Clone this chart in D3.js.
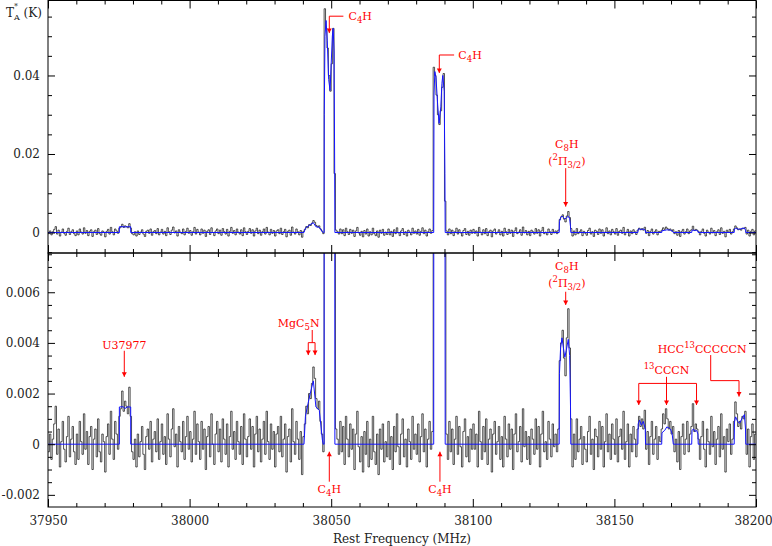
<!DOCTYPE html>
<html><head><meta charset="utf-8">
<script src="https://cdn.jsdelivr.net/npm/d3@7"></script>
<style>html,body{margin:0;padding:0;background:#fff;} svg{display:block;}</style>
</head><body><svg id="c" width="772" height="546"></svg>
<script>
// ---------------- DATA ----------------
const freqStart = 37950;      // MHz
const chanWidth = 0.5;        // MHz
const unitK = 1e-5;           // spectrum and model values are in units of 1e-5 K
const spectrum = [
 -30, 40, -60, 20, 80, 150, -40, 60, -90, 10, 90, -20, -70, 30, 110, -50, 20, 70, -30, -80,
 40, -60, 90, 10, -40, 120, -20, 50, -80, 30, 70, -100, 20, 60, -50, 100, -30, -70, 40, 10,
 -110, 30, 80, -40, 130, 20, -60, 90, 40, -20, 110, 140, 210, 130, 170, 150, 120, 225, 110, -30,
 -60, 20, -90, 40, -50, 10, 70, -40, -100, 30, 60, -20, 90, -70, 20, 50, -30, 100, -60, 10,
 80, -40, 30, -80, 120, 20, -50, 60, 140, -10, 40, -90, 70, 10, -30, 90, -60, 30, 110, -20,
 50, -70, 20, 130, -40, 80, 10, -60, 90, -20, 60, -100, 30, 70, -50, 120, 0, -80, 40, 90,
 -30, 60, -70, 100, 20, -40, 80, -90, 30, 130, -20, 50, -60, 90, 10, -40, 70, -80, 120, 20,
 -50, 30, 100, -20, 70, -90, 40, 110, -30, 60, -70, 20, 90, -40, 130, 10, -60, 80, -20, 50,
 -90, 40, 70, -30, 110, -50, 20, 80, -110, 30, 60, -70, 140, 10, -40, 90, 20, -60, 50, -120,
 30, 80, 150, 120, 200, 180, 240, 305, 260, 180, 140, 170, 90, 40, -30, 5700, 5200, 4700, 4000, 3600,
 4300, 5200, 1500, 60, 20, -40, 90, -30, 70, -80, 110, 20, -50, 80, -20, 60, -100, 40, 130, -10,
 -70, 30, -110, 50, -40, 90, -90, 20, -60, 110, -30, -80, 40, -120, 60, -20, 80, -70, 10, -50,
 90, -60, 30, -100, 70, -30, 120, -10, -80, 40, 100, -50, 20, -90, 60, 10, -60, 110, -20, 40,
 -40, 80, -70, 30, 120, -30, 60, -90, 20, 90, -20, 50, 4210, 4000, 3500, 3000, 2750, 3100, 3700, 4050,
 800, 40, -60, 90, -30, 60, -80, 20, 110, -40, 70, -10, -90, 50, 100, -50, 30, -70, 60, -20,
 80, -20, 40, -90, 130, 10, -60, 70, -30, 100, -80, 20, 60, -110, 40, 90, -40, 10, 70, -60,
 30, -90, 110, 20, -50, 80, -20, 60, -100, 40, 120, -30, 10, 70, -70, 140, -10, 50, -60, 30,
 -80, 60, 20, -40, 100, -20, 70, -90, 40, 130, -30, 10, -60, 90, 20, -50, 80, -10, 40, -30,
 60, 330, 400, 450, 340, 270, 420, 535, 380, 100, -90, 40, -60, 100, -30, 20, 70, -80, 30, -20,
 -70, 50, 110, -40, 20, -100, 60, 30, -50, 90, -20, 70, -90, 10, 120, -30, 40, -60, 80, 20,
 -40, 100, -70, 30, 60, -20, 130, -60, 10, 80, -90, 40, -30, 70, 20, -50, 60, 110, 70, 100,
 60, 134, -20, 50, -80, 30, 90, -40, 20, 70, -60, 30, 10, 60, 120, 80, 140, 100, 60, 90,
 40, 70, -30, 20, -70, 50, -100, 30, 80, -40, 20, 90, -30, 40, 70, 160, 50, 80, 60, 20,
 -60, 30, 90, -20, -90, 60, 10, -40, 110, -10, 50, -80, 20, 70, -50, 120, -20, 30, -110, 60,
 10, 80, -40, 20, 90, 167, 120, 70, 90, 60, 110, 100, 130, -40, 60, -90, 30, 80, -60, 40
];
// model line profiles: [frequency MHz, value in 1e-5 K]
const modelU37977 = [[37975.2,0],[37975.2,147],[37976.5,148],[37977.2,141],[37978,147],[37979.2,147],[37979.2,0]];
const modelMgC5N = [[38040.4,0],[38040.9,110],[38041.8,160],[38042.8,210],[38043.7,250],[38044.6,147],[38045.8,134],[38046.9,16],[38047.2,0]];
const modelC4Ha = [[38047.5,0],[38047.55,3000],[38047.8,5000],[38048.2,5400],[38048.6,4900],[38049.1,3900],[38049.6,3620],[38050.0,4300],[38050.4,5000],[38050.7,5200],[38051.0,4600],[38051.2,2000],[38051.3,0]];
const modelC4Hb = [[38086.2,0],[38086.3,3500],[38086.6,4100],[38087.0,3950],[38087.6,3250],[38088.1,2780],[38088.7,3200],[38089.1,3800],[38089.4,4000],[38089.9,3600],[38090.15,1500],[38090.25,0]];
const modelC8H = [[38130.5,0],[38130.6,280],[38131.0,380],[38131.5,420],[38132.0,380],[38132.5,343],[38133.0,370],[38133.7,414],[38134.2,350],[38134.5,150],[38134.6,0]];
const model13CCCN1 = [[38158.3,0],[38158.4,80],[38158.9,95],[38159.5,75],[38160.2,90],[38160.9,60],[38161,0]];
const model13CCCN2 = [[38166.7,0],[38166.8,45],[38167.8,55],[38168.5,68],[38169.2,65],[38169.8,60],[38170.4,40],[38170.8,0]];
const model13CCCN3 = [[38177.3,0],[38177.4,55],[38178,60],[38178.5,50],[38179,55],[38179.5,40],[38179.6,0]];
const modelHCC13C5N = [[38192.3,0],[38192.4,90],[38192.8,108],[38193.5,90],[38194.2,83],[38195,100],[38195.9,117],[38196.3,60],[38196.4,0]];

const xMajorTicks = [37950, 38000, 38050, 38100, 38150, 38200];
const topMajorTicks = [0, 0.02, 0.04];
const botMajorTicks = [-0.002, 0, 0.002, 0.004, 0.006];
const xLabel = "Rest Frequency (MHz)";

// ---------------- LAYOUT ----------------
const svg = d3.select("#c");
const FONT = "'DejaVu Serif', serif";
const L = 48, R = 756, T1 = 0.5, B1 = 253, T2 = 253, B2 = 507;
const x = d3.scaleLinear().domain([37950, 38200]).range([L, R]);
const yTop = d3.scaleLinear().domain([-0.00522, 0.0591]).range([B1, T1]);
const yBot = d3.scaleLinear().domain([-0.00248, 0.00755]).range([B2, T2]);

const xMinor = d3.range(37950, 38201, 10).filter(v => !xMajorTicks.includes(v));
const topMinor = d3.range(-0.005, 0.0591, 0.005).map(v => +v.toFixed(4)).filter(v => !topMajorTicks.includes(v));
const botMinor = d3.range(-0.0020, 0.0076, 0.0005).map(v => +v.toFixed(5)).filter(v => !botMajorTicks.includes(v));

const defs = svg.append("defs");
defs.append("clipPath").attr("id","clipT").append("rect").attr("x",L).attr("y",T1).attr("width",R-L).attr("height",B1-T1);
defs.append("clipPath").attr("id","clipB").append("rect").attr("x",L).attr("y",T2).attr("width",R-L).attr("height",B2-T2);

// spectrum points
const specPts = spectrum.map((v,i) => [freqStart + i*chanWidth, v*unitK]);
specPts.push([freqStart + spectrum.length*chanWidth, spectrum[spectrum.length-1]*unitK]);
const modelPts = [[37950,0]].concat(modelU37977, modelMgC5N, modelC4Ha, modelC4Hb, modelC8H,
   model13CCCN1, model13CCCN2, model13CCCN3, modelHCC13C5N).map(d => [d[0], d[1]*unitK]);
modelPts.push([38200,0]);

function panel(y, clipId) {
  const g = svg.append("g");
  const gd = g.append("g").attr("clip-path", `url(#${clipId})`);
  gd.append("path").datum(specPts)
    .attr("d", d3.line().x(d=>x(d[0])).y(d=>y(d[1])).curve(d3.curveStepAfter))
    .attr("fill","none").attr("stroke","#1a1a1a").attr("stroke-width",0.75);
  gd.append("path").datum(modelPts)
    .attr("d", d3.line().x(d=>x(d[0])).y(d=>y(d[1])))
    .attr("fill","none").attr("stroke","#1414ff").attr("stroke-width",1);
  return g;
}
panel(yTop, "clipT");
panel(yBot, "clipB");

function styleAxis(g) {
  g.select(".domain").remove();
  g.attr("font-family", FONT).attr("font-size", 12);
  g.selectAll("text").attr("fill", "#222");
  g.selectAll("line").attr("stroke", "#000");
}
function xAxes(yPos, which) {
  const mk = which === 'top' ? d3.axisTop : d3.axisBottom;
  svg.append("g").attr("transform",`translate(0,${yPos})`)
    .call(mk(x).tickValues(xMinor).tickSize(-4).tickFormat("")).call(styleAxis);
  svg.append("g").attr("transform",`translate(0,${yPos})`)
    .call(mk(x).tickValues(xMajorTicks).tickSize(-8).tickFormat("")).call(styleAxis);
}
function yAxes(y, majors, minors, fmt) {
  svg.append("g").attr("transform",`translate(${L},0)`)
    .call(d3.axisLeft(y).tickValues(minors).tickSize(-4).tickFormat("")).call(styleAxis);
  svg.append("g").attr("transform",`translate(${L},0)`)
    .call(d3.axisLeft(y).tickValues(majors).tickSize(-7).tickPadding(8).tickFormat(fmt)).call(styleAxis);
  svg.append("g").attr("transform",`translate(${R},0)`)
    .call(d3.axisRight(y).tickValues(minors).tickSize(-4).tickFormat("")).call(styleAxis);
  svg.append("g").attr("transform",`translate(${R},0)`)
    .call(d3.axisRight(y).tickValues(majors).tickSize(-7).tickFormat("")).call(styleAxis);
}
const fmtTick = v => v === 0 ? "0" : (v < 0 ? "-" + String(Math.abs(v)) : String(v));

xAxes(T1, 'top');
xAxes(B1, 'bottom');
xAxes(T2, 'top');
svg.append("g").attr("transform",`translate(0,${B2})`)
  .call(d3.axisBottom(x).tickValues(xMinor).tickSize(-4).tickFormat("")).call(styleAxis);
const xb = svg.append("g").attr("transform",`translate(0,${B2})`)
  .call(d3.axisBottom(x).tickValues(xMajorTicks).tickSize(-8).tickPadding(9).tickFormat(d3.format("d"))).call(styleAxis);
xb.selectAll(".tick text").filter(d => d === 38200).attr("dx", -3);

yAxes(yTop, topMajorTicks, topMinor, fmtTick);
yAxes(yBot, botMajorTicks, botMinor, fmtTick);

// frames
svg.append("rect").attr("x",L).attr("y",T1).attr("width",R-L).attr("height",B1-T1).attr("fill","none").attr("stroke","#000");
svg.append("rect").attr("x",L).attr("y",T2).attr("width",R-L).attr("height",B2-T2).attr("fill","none").attr("stroke","#000");

// axis titles
svg.append("text").attr("x",(L+R)/2).attr("y",543).attr("text-anchor","middle")
  .attr("font-family",FONT).attr("font-size",12).attr("fill","#222").text(xLabel);
const yl = svg.append("text").attr("x",6).attr("y",17).attr("font-family",FONT).attr("font-size",12).attr("fill","#222");
yl.append("tspan").text("T");
yl.append("tspan").attr("font-size",8).attr("dy",-8).text("*");
yl.append("tspan").attr("font-size",8).attr("dx",-4).attr("dy",11).text("A");
yl.append("tspan").attr("dy",-3).text(" (K)");

// ---------------- ANNOTATIONS ----------------
const RED = "#ff0000";
const ann = svg.append("g");
function seg(x1,y1,x2,y2){
  ann.append("line").attr("x1",x1).attr("y1",y1).attr("x2",x2).attr("y2",y2)
    .attr("stroke",RED).attr("stroke-width",1);
}
function head(xp, yp, dir){
  ann.append("path").attr("d",`M${xp},${yp} L${xp-2.5},${yp-4.5*dir} L${xp+2.5},${yp-4.5*dir} Z`).attr("fill",RED);
}
function rich(xp, yp, parts, anchor){
  const t = ann.append("text").attr("x",xp).attr("y",yp).attr("text-anchor",anchor||"middle")
    .attr("font-family",FONT).attr("font-size",11).attr("fill",RED);
  let cur = 0;
  parts.forEach(p => {
    const s = t.append("tspan");
    let target = 0;
    if (p.sub) { target = 3; s.attr("font-size",8.5); }
    if (p.sup) { target = -5; s.attr("font-size",8.5); }
    if (target !== cur) s.attr("dy", target - cur);
    cur = target;
    s.text(p.t);
  });
  return t;
}
const C4H = [{t:"C"},{t:"4",sub:true},{t:"H"}];
const C8H = [{t:"C"},{t:"8",sub:true},{t:"H"}];
const PI = [{t:"("},{t:"2",sup:true},{t:"\u03A0"},{t:"3/2",sub:true},{t:")"}];

// top panel
{
  const xa = x(38049.33), yh = yTop(0.0551);
  seg(xa, yh, xa, yTop(0.0508)); head(xa, yTop(0.0508), 1);
  seg(xa, yh, x(38054.3), yh);
  rich(x(38056.1), yh+4, C4H, "start");
}
{
  const xa = x(38088.17), yh = yTop(0.04522);
  seg(xa, yh, xa, yTop(0.04064)); head(xa, yTop(0.04064), 1);
  seg(xa, yh, x(38093.4), yh);
  rich(x(38094.9), yh+4, C4H, "start");
}
{
  const xa = x(38132.8);
  rich(x(38133.2), yTop(0.0214), C8H);
  rich(x(38133.2), yTop(0.0172), PI);
  seg(xa, yTop(0.0164), xa, yTop(0.0066)); head(xa, yTop(0.0066), 1);
}
// bottom panel
{
  const xa = x(38132.8);
  rich(x(38133.2), yBot(0.00688), C8H);
  rich(x(38133.2), yBot(0.00621), PI);
  seg(xa, yBot(0.00602), xa, yBot(0.0055)); head(xa, yBot(0.0055), 1);
}
{
  const xa = x(37976.94);
  rich(x(37977), yBot(0.00375), [{t:"U37977"}]);
  seg(xa, yBot(0.00369), xa, yBot(0.00266)); head(xa, yBot(0.00266), 1);
}
{
  rich(x(38038.5), yBot(0.00463), [{t:"MgC"},{t:"5",sub:true},{t:"N"}]);
  const xs = x(38043.3), yb = yBot(0.00401), x1 = x(38041.9), x2 = x(38044.3);
  seg(xs, yBot(0.00451), xs, yb);
  seg(x1, yb, x2, yb);
  seg(x1, yb, x1, yBot(0.00352)); head(x1, yBot(0.00352), 1);
  seg(x2, yb, x2, yBot(0.00352)); head(x2, yBot(0.00352), 1);
}
[38049.33, 38088.4].forEach(f => {
  const xa = x(f);
  seg(xa, yBot(-0.00148), xa, yBot(-0.000296)); head(xa, yBot(-0.000296), -1);
  rich(xa, yBot(-0.00191), C4H);
});
{
  rich(x(38168.4), yBot(0.00277), [{t:"13",sup:true},{t:"CCCN"}]);
  const yh = yBot(0.0024), yt = yBot(0.00155);
  seg(x(38158.6), yh, x(38179.0), yh);
  seg(x(38168.4), yBot(0.00266), x(38168.4), yt);
  [38158.6, 38168.4, 38179.0].forEach(f => { seg(x(f), yh, x(f), yt); head(x(f), yt, 1); });
}
{
  rich(x(38181.0), yBot(0.00361), [{t:"HCC"},{t:"13",sup:true},{t:"CCCCCN"}]);
  const x1 = x(38184.0), x2 = x(38194.0), yh = yBot(0.00251);
  seg(x1, yBot(0.00352), x1, yh);
  seg(x1, yh, x2, yh);
  seg(x2, yh, x2, yBot(0.00188)); head(x2, yBot(0.00188), 1);
}
</script></body></html>
